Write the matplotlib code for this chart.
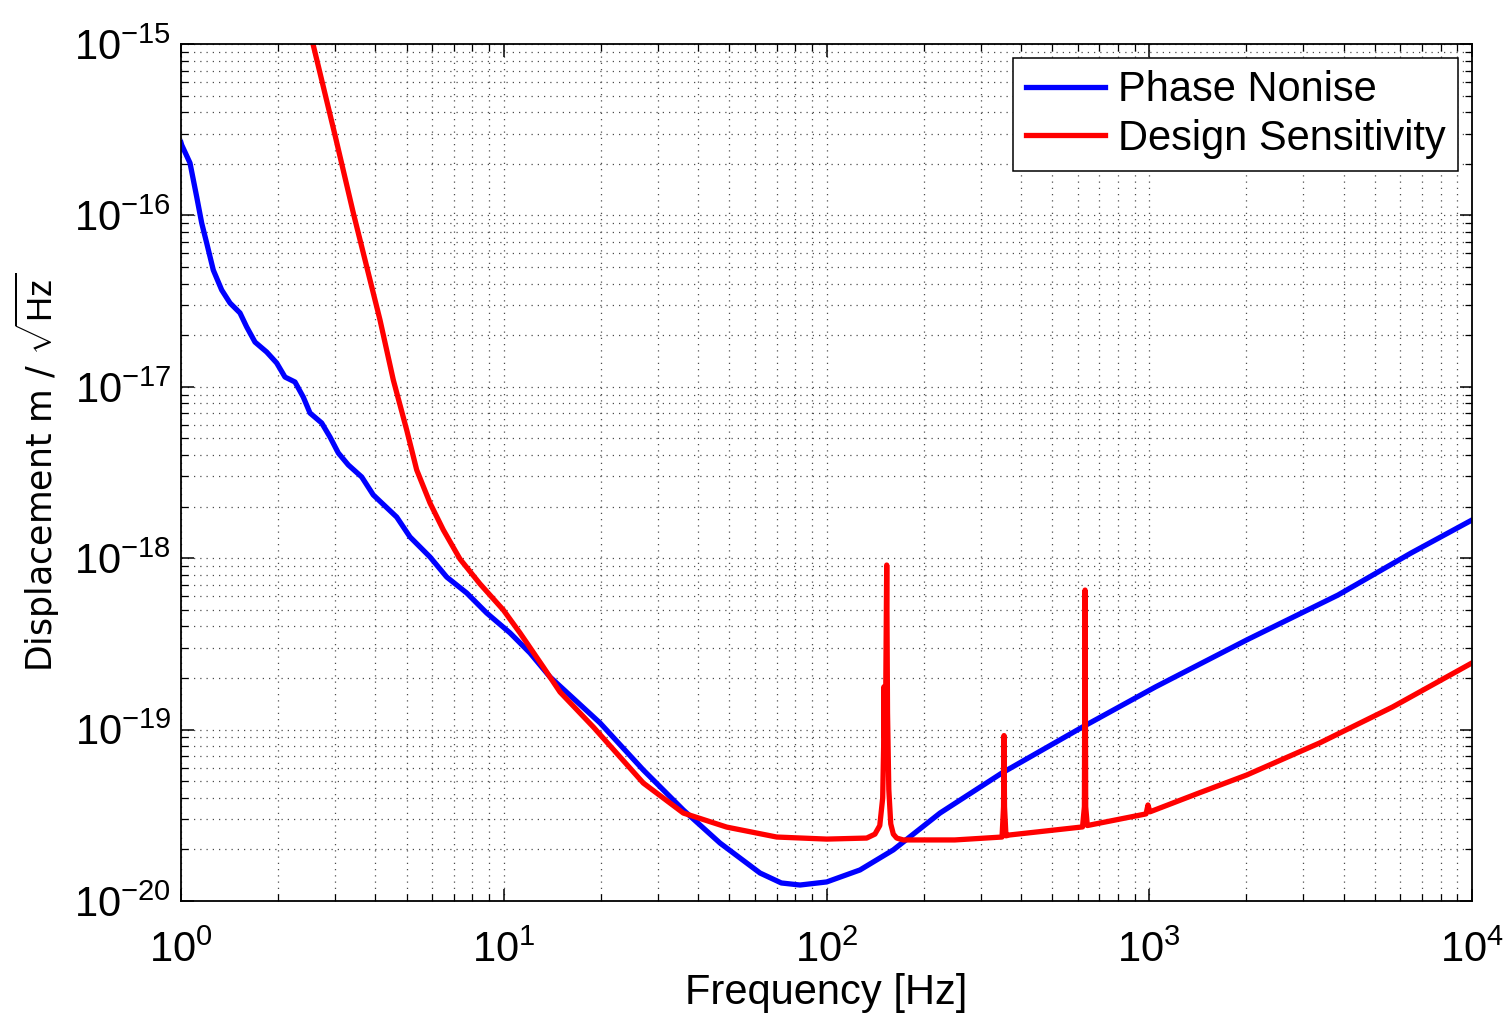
import numpy as np
import matplotlib.pyplot as plt
from matplotlib.ticker import NullFormatter

plt.rcParams['font.family'] = ['Liberation Sans', 'DejaVu Sans']
plt.rcParams['mathtext.fontset'] = 'custom'
plt.rcParams['mathtext.rm'] = 'Liberation Sans'
plt.rcParams['mathtext.it'] = 'Liberation Sans'

# as log10(frequency / Hz) and log10(displacement)
phase_logf = [0.0, 0.0022, 0.0279, 0.0486, 0.0641, 0.0796, 0.1001, 0.1261, 0.1518,
              0.1828, 0.2036, 0.2293, 0.2655, 0.2965, 0.3222, 0.3532, 0.3789, 0.3997,
              0.4359, 0.4617, 0.4874, 0.5184, 0.5599, 0.5958, 0.6683, 0.7095, 0.7715,
              0.8232, 0.8852, 0.9472, 1.0194, 1.0813, 1.1433, 1.2982, 1.4324, 1.5563,
              1.6700, 1.7940, 1.8600, 1.9179, 2.0006, 2.1038, 2.2070, 2.3517, 2.5438,
              2.7932, 3.0194, 3.3019, 3.5848, 3.8110, 4.0]
phase_logx = [-15.575, -15.589, -15.694, -15.891, -16.044, -16.161, -16.319, -16.435,
              -16.511, -16.569, -16.651, -16.739, -16.797, -16.861, -16.943, -16.972,
              -17.060, -17.153, -17.211, -17.293, -17.386, -17.456, -17.526, -17.631,
              -17.760, -17.876, -17.993, -18.110, -18.203, -18.320, -18.436, -18.553,
              -18.693, -18.961, -19.236, -19.469, -19.662, -19.837, -19.895, -19.907,
              -19.889, -19.819, -19.702, -19.487, -19.253, -18.985, -18.751, -18.477,
              -18.215, -17.970, -17.777]

design_logf = [0.409, 0.4771, 0.5338, 0.6166, 0.6578, 0.6993, 0.7303, 0.7715,
               0.8127, 0.8644, 0.9264, 0.9986, 1.0503, 1.1225, 1.1743, 1.2775, 1.4324,
               1.5563, 1.6908, 1.8457, 2.0006, 2.1245, 2.150, 2.1650, 2.1740, 2.1770,
               2.1780, 2.1800, 2.1830, 2.1865, 2.1890, 2.1930, 2.1990, 2.2070, 2.2175,
               2.2380, 2.3972, 2.5438, 2.5485, 2.5500, 2.5515, 2.5560, 2.5670, 2.7932,
               2.7990, 2.8010, 2.8030, 2.8080, 2.9900, 2.9960, 3.0020, 3.1540, 3.3020,
               3.5280, 3.7540, 4.0]
design_logx = [-15.0, -15.531, -15.985, -16.610, -16.960, -17.252, -17.485,
               -17.678, -17.835, -18.005, -18.150, -18.302, -18.436, -18.635, -18.781,
               -18.985, -19.312, -19.487, -19.569, -19.627, -19.639, -19.633, -19.610,
               -19.560, -19.400, -19.100, -18.750, -19.050, -18.900, -18.040, -18.900,
               -19.350, -19.550, -19.610, -19.633, -19.644, -19.644, -19.627, -19.450,
               -19.035, -19.450, -19.620, -19.615, -19.568, -19.450, -18.186, -19.450,
               -19.560, -19.492, -19.440, -19.480, -19.370, -19.265, -19.078, -18.868,
               -18.611]

x_ticks = [1e0, 1e1, 1e2, 1e3, 1e4]
y_ticks = [1e-20, 1e-19, 1e-18, 1e-17, 1e-16, 1e-15]

fig = plt.figure(figsize=(15.07, 10.17), dpi=100)
ax = fig.add_axes([0.1201, 0.1141, 0.8567, 0.8426])

ax.loglog(10.0 ** np.array(phase_logf), 10.0 ** np.array(phase_logx),
          color='#0000ff', lw=3.8, label='Phase Nonise')
ax.loglog(10.0 ** np.array(design_logf), 10.0 ** np.array(design_logx),
          color='#ff0000', lw=3.8, label='Design Sensitivity')

ax.set_xticks(x_ticks)
ax.set_yticks(y_ticks)
ax.set_xlim(1, 1e4)
ax.set_ylim(1e-20, 1e-15)
ax.xaxis.set_minor_formatter(NullFormatter())
ax.yaxis.set_minor_formatter(NullFormatter())

ax.grid(True, which='both', linestyle=(0, (1, 4)), color='0.3', linewidth=0.9)
ax.tick_params(which='both', direction='in', top=True, right=True, labelsize=30)
ax.tick_params(which='major', length=9, width=1.1)
ax.tick_params(which='minor', length=5, width=0.9, labelleft=False, labelbottom=False)
ax.tick_params(axis='x', pad=21)
ax.tick_params(axis='y', pad=7)
for s in ax.spines.values():
    s.set_linewidth(1.3)

ax.set_xlabel('Frequency [Hz]', fontsize=30, labelpad=2)
ax.set_ylabel(r'Displacement m / $\sqrt{\mathrm{Hz}}$', fontsize=25, labelpad=9,
              family=['DejaVu Sans'])

leg = ax.legend(loc='upper right', fontsize=30, fancybox=False, framealpha=1,
                edgecolor='black', handlelength=1.9, borderaxespad=0.33,
                labelspacing=0.2, handletextpad=0.32, borderpad=0.3)
leg.get_frame().set_linewidth(1.1)

fig.savefig('out.png', dpi=100)
